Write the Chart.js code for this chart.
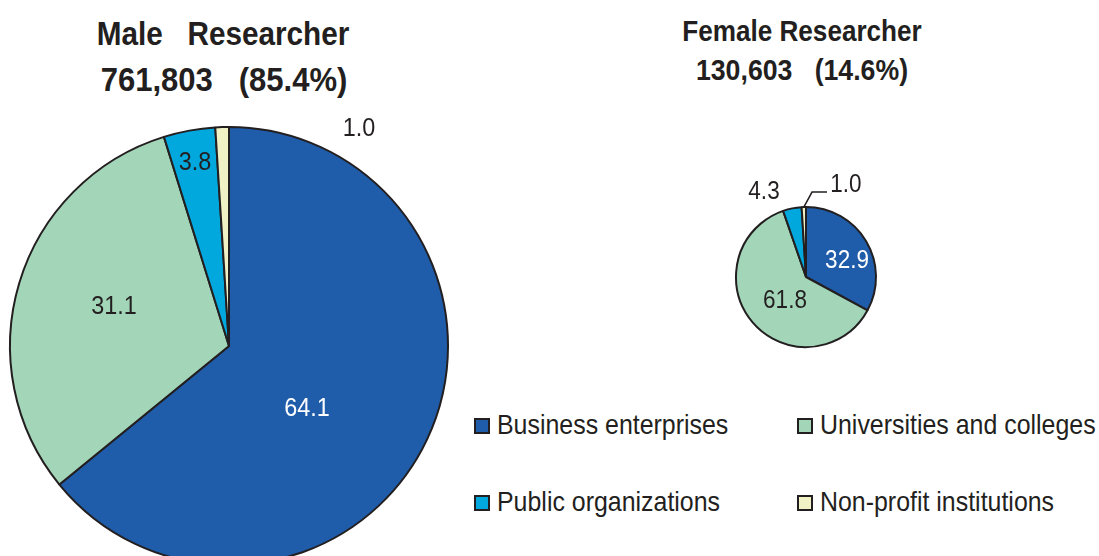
<!DOCTYPE html>
<html>
<head>
<meta charset="utf-8">
<script src="https://cdn.jsdelivr.net/npm/chart.js@4"></script>
<style>
  body { margin: 0; width: 1099px; height: 556px; overflow: hidden; background: #fff; position: relative;
         font-family: "Liberation Sans", Arial, sans-serif; color: #231f20; }
  .box { position: absolute; }
  .title { position: absolute; font-weight: bold; white-space: pre; transform: translateX(-50%) scaleX(0.9); }
  .legend { position: absolute; font-size: 28px; line-height: 30px; white-space: nowrap; }
  .legend .sq { position: absolute; left: 0; top: 8px; width: 12px; height: 12px; border: 2px solid #231f20; }
  .legend .tx { position: absolute; left: 23px; top: 0; transform: scaleX(0.89); transform-origin: left center; }
</style>
</head>
<body>
<div class="title" style="left:223px; top:14px; font-size:33px; line-height:40px;">Male   Researcher</div>
<div class="title" style="left:224px; top:60px; font-size:33px; line-height:40px; transform: translateX(-50%) scaleX(0.94);">761,803   (85.4%)</div>
<div class="title" style="left:802px; top:13px; font-size:29px; line-height:36px;">Female Researcher</div>
<div class="title" style="left:802px; top:52px; font-size:29px; line-height:36px; transform: translateX(-50%) scaleX(0.92);">130,603   (14.6%)</div>

<div class="box" style="left:0; top:100px;"><canvas id="male" width="460" height="470"></canvas></div>
<div class="box" style="left:705px; top:160px;"><canvas id="female" width="202" height="190"></canvas></div>
<div id="legend"></div>

<script>
const categories = ["Business enterprises", "Universities and colleges", "Public organizations", "Non-profit institutions"];
const colors = ["#1f5ca9", "#a3d6b9", "#00a8de", "#f1f1c6"];
const maleValues = [64.1, 31.1, 3.8, 1.0];
const femaleValues = [32.9, 61.8, 4.3, 1.0];

const FONT = '"Liberation Sans", Arial, sans-serif';

// label placement relative to pie center, in units of radius
const maleLabels = [[0.356, 0.283, "#fff"], [-0.525, -0.183, "#231f20"], [-0.155, -0.84, "#231f20"], [0.594, -0.995, "#231f20"]];
const femaleLabels = [[0.586, -0.243, "#fff"], [-0.3, 0.329, "#231f20"], [-0.6, -1.229, "#231f20"], [0.571, -1.321, "#231f20"]];

const pieLabels = {
  id: "pieLabels",
  afterDatasetsDraw(chart, args, opts) {
    const ctx = chart.ctx;
    const meta = chart.getDatasetMeta(0);
    const arc0 = meta.data[0];
    const cx = arc0.x, cy = arc0.y, r = arc0.outerRadius;
    const values = chart.data.datasets[0].data;
    ctx.save();
    ctx.font = opts.size + "px " + FONT;
    ctx.textAlign = "center";
    ctx.textBaseline = "middle";
    values.forEach((v, i) => {
      const p = opts.pos[i];
      ctx.save();
      ctx.translate(cx + p[0] * r, cy + p[1] * r);
      ctx.scale(0.9, 1); // condensed look
      ctx.fillStyle = p[2];
      ctx.fillText(v.toFixed(1), 0, 1);
      ctx.restore();
    });
    if (opts.leader) {
      // leader line from the small slice out to its label
      const a = meta.data[opts.leader.index];
      const mid = (a.startAngle + a.endAngle) / 2;
      ctx.strokeStyle = "#231f20";
      ctx.lineWidth = 1.5;
      ctx.beginPath();
      ctx.moveTo(cx + Math.cos(mid) * r, cy + Math.sin(mid) * r);
      ctx.lineTo(cx + opts.leader.elbow[0] * r, cy + opts.leader.elbow[1] * r);
      ctx.lineTo(cx + opts.leader.end[0] * r, cy + opts.leader.end[1] * r);
      ctx.stroke();
    }
    ctx.restore();
  },
};

function makePie(id, values, padding, labelOpts) {
  return new Chart(document.getElementById(id), {
    type: "pie",
    data: {
      labels: categories,
      datasets: [{
        data: values,
        backgroundColor: colors,
        borderColor: "#231f20",
        borderWidth: 2,
      }],
    },
    options: {
      responsive: false,
      animation: false,
      layout: { padding: padding },
      plugins: {
        legend: { display: false },
        tooltip: { enabled: false },
        pieLabels: labelOpts,
      },
    },
    plugins: [pieLabels],
  });
}

makePie("male", maleValues, { left: 9, right: 11, top: 26, bottom: 4 }, { size: 26, pos: maleLabels });
makePie("female", femaleValues, { left: 30, right: 30, top: 46, bottom: 2 },
  { size: 25, pos: femaleLabels, leader: { index: 3, elbow: [0.086, -1.214], end: [0.3, -1.214] } });

// legend, 2 x 2
const legendPos = [[474, 410], [797, 410], [474, 487], [797, 487]];
const legend = document.getElementById("legend");
categories.forEach((c, i) => {
  const d = document.createElement("div");
  d.className = "legend";
  d.style.left = legendPos[i][0] + "px";
  d.style.top = legendPos[i][1] + "px";
  d.innerHTML = '<span class="sq" style="background:' + colors[i] + '"></span><span class="tx">' + c + '</span>';
  legend.appendChild(d);
});
</script>
</body>
</html>
